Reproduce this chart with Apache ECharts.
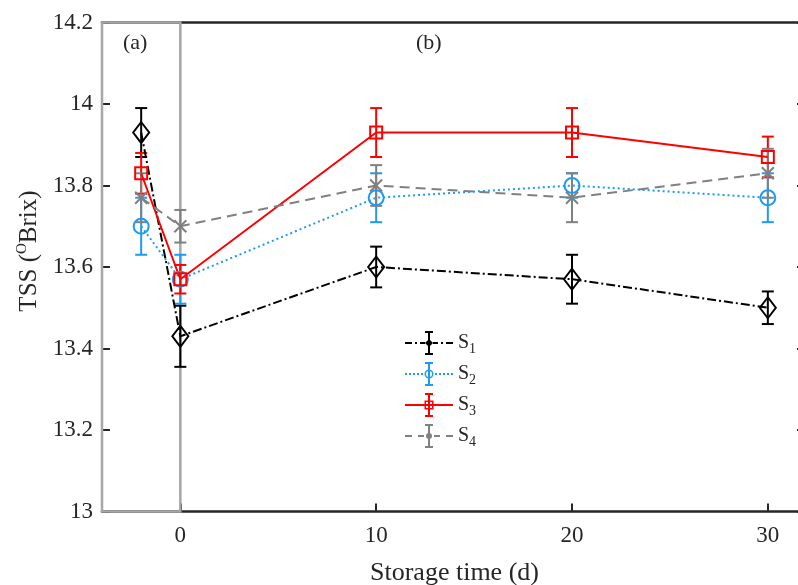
<!DOCTYPE html>
<html>
<head>
<meta charset="utf-8">
<script src="https://cdn.jsdelivr.net/npm/echarts@6/dist/echarts.min.js"></script>
<style>
  html, body { margin: 0; padding: 0; background: #fff; }
  #chart { width: 798px; height: 585px; }
</style>
</head>
<body>
<div id="chart"></div>
<script>
// storage days (-2 = panel (a), before storage)
var days = [-2, 0, 10, 20, 30];
var names = ['S1', 'S2', 'S3', 'S4'];
var s1 = [13.93, 13.43, 13.60, 13.57, 13.50];
var s1Err = [0.06, 0.075, 0.05, 0.06, 0.04];
var s2 = [13.70, 13.57, 13.77, 13.80, 13.77];
var s2Err = [0.07, 0.06, 0.06, 0.03, 0.06];
var s3 = [13.83, 13.57, 13.93, 13.93, 13.87];
var s3Err = [0.05, 0.035, 0.06, 0.06, 0.05];
var s4 = [13.77, 13.70, 13.80, 13.77, 13.83];
var s4Err = [0.06, 0.04, 0.05, 0.06, 0.06];
var xTicks = [0, 10, 20, 30];
var panelA = [[-4, 0]];

var font = '"Liberation Serif", "Times New Roman", serif';
var txt = '#262626';
var colors = ['#000000', '#1E9BF0', '#FF0000', '#808080'];
var values = [s1, s2, s3, s4];
var errs = [s1Err, s2Err, s3Err, s4Err];
var symbols = ['diamond', 'circle', 'rect', 'path://M0,0L10,10M0,10L10,0'];
var symbolSizes = [[16, 21], 15, 12, 12];
var dashes = [[9, 3, 2, 3], [2, 3], 'solid', [10, 6]];

// legend glyphs: line + error bar + small marker, in a 48x24 box
var bar = 'M23,1H25V23H23Z M20,0H28V2H20Z M20,22H28V24H20Z ';
var icons = [
  'path://' + bar + 'M0,11H7V13H0Z M10,11H12V13H10Z M15,11H20V13H15Z M28,11H33V13H28Z M36,11H38V13H36Z M41,11H48V13H41Z M24,8L28,12L24,16L20,12Z',
  'path://' + bar + 'M0,11H2V13H0Z M4,11H6V13H4Z M8,11H10V13H8Z M12,11H14V13H12Z M16,11H18V13H16Z M30,11H32V13H30Z M34,11H36V13H34Z M38,11H40V13H38Z M42,11H44V13H42Z M46,11H48V13H46Z M19.5,12A4.5,4.5 0 1,1 28.5,12A4.5,4.5 0 1,1 19.5,12Z M21,12A3,3 0 1,0 27,12A3,3 0 1,0 21,12Z',
  'path://' + bar + 'M0,11H48V13H0Z M19.5,7.5H28.5V16.5H19.5Z M21,9V15H27V9Z',
  'path://' + bar + 'M0,11H7V13H0Z M13,11H19V13H13Z M29,11H35V13H29Z M41,11H48V13H41Z M21,12A3,3 0 1,1 27,12A3,3 0 1,1 21,12Z'
];

function errorRender(color) {
  return function (params, api) {
    var x = api.value(0);
    var top = api.coord([x, api.value(2)]);
    var bot = api.coord([x, api.value(1)]);
    var w = 6;
    var st = { stroke: color, lineWidth: 2 };
    return {
      type: 'group',
      children: [
        { type: 'line', shape: { x1: top[0], y1: top[1], x2: bot[0], y2: bot[1] }, style: st },
        { type: 'line', shape: { x1: top[0] - w, y1: top[1], x2: top[0] + w, y2: top[1] }, style: st },
        { type: 'line', shape: { x1: bot[0] - w, y1: bot[1], x2: bot[0] + w, y2: bot[1] }, style: st }
      ]
    };
  };
}

var series = [];
// gray frame of panel (a)
series.push({
  type: 'custom',
  name: 'panel',
  clip: false,
  silent: true,
  z: 1,
  data: panelA,
  renderItem: function (params, api) {
    var p0 = api.coord([api.value(0), 14.2]);
    var p1 = api.coord([api.value(1), 13]);
    return {
      type: 'rect',
      shape: { x: p0[0], y: p0[1], width: p1[0] - p0[0], height: p1[1] - p0[1] },
      style: { fill: 'none', stroke: '#A6A6A6', lineWidth: 2.5 }
    };
  }
});
for (var i = 0; i < 4; i++) {
  series.push({
    type: 'line',
    name: names[i],
    data: days.map(function (d, k) { return [d, values[i][k]]; }),
    symbol: symbols[i],
    symbolSize: symbolSizes[i],
    showAllSymbol: true,
    z: 3,
    lineStyle: { color: colors[i], width: 2, type: dashes[i] },
    itemStyle: { color: 'rgba(0,0,0,0)', borderColor: colors[i], borderWidth: 2 },
    emphasis: { disabled: true }
  });
  series.push({
    type: 'custom',
    name: names[i] + ' err',
    z: 3,
    data: days.map(function (d, k) { return [d, values[i][k] - errs[i][k], values[i][k] + errs[i][k]]; }),
    encode: { x: 0, y: [1, 2] },
    renderItem: errorRender(colors[i])
  });
}

var chart = echarts.init(document.getElementById('chart'));
chart.setOption({
  backgroundColor: '#fff',
  animation: false,
  grid: { left: 102, top: 22.5, width: 705, height: 489, outerBoundsMode: 'none', containLabel: false },
  xAxis: [{
    type: 'value',
    min: -4,
    max: 32,
    position: 'bottom',
    name: 'Storage time (d)',
    nameLocation: 'middle',
    nameGap: 49,
    nameTextStyle: { fontFamily: font, fontSize: 26, color: txt },
    axisLine: { onZero: false, lineStyle: { color: '#262626', width: 2.5 } },
    axisTick: { inside: true, length: 8, customValues: xTicks, lineStyle: { color: '#262626', width: 2 } },
    axisLabel: { customValues: xTicks, margin: 13, fontFamily: font, fontSize: 23, color: txt },
    splitLine: { show: false }
  }, {
    type: 'value',
    min: -4,
    max: 32,
    position: 'top',
    axisLine: { onZero: false, lineStyle: { color: '#262626', width: 2.5 } },
    axisTick: { show: false },
    axisLabel: { show: false },
    splitLine: { show: false }
  }],
  yAxis: [{
    type: 'value',
    min: 13,
    max: 14.2,
    interval: 0.2,
    position: 'left',
    name: 'TSS ({sup|O}Brix)',
    nameLocation: 'middle',
    nameGap: 58,
    nameTextStyle: {
      fontFamily: font, fontSize: 25, color: txt,
      padding: [0, 0, 0, 32],
      rich: { sup: { fontFamily: font, fontSize: 15, color: txt, padding: [0, 0, 14, 0] } }
    },
    axisLine: { show: false, onZero: false },
    axisTick: { inside: true, length: 8, lineStyle: { color: '#262626', width: 2 } },
    axisLabel: { margin: 9, fontFamily: font, fontSize: 23, color: txt },
    splitLine: { show: false }
  }, {
    type: 'value',
    min: 13,
    max: 14.2,
    interval: 0.2,
    position: 'right',
    axisLine: { show: true, onZero: false, lineStyle: { color: '#262626', width: 2.5 } },
    axisTick: { inside: true, length: 10, lineStyle: { color: '#262626', width: 2 } },
    axisLabel: { show: false },
    splitLine: { show: false }
  }],
  legend: {
    orient: 'vertical',
    left: 400,
    top: 326,
    padding: 5,
    itemWidth: 48,
    itemHeight: 24,
    itemGap: 6,
    selectedMode: false,
    itemStyle: { borderWidth: 0 },
    data: names.map(function (n, k) {
      return { name: n, icon: icons[k], itemStyle: { color: colors[k], borderWidth: 0 } };
    }),
    formatter: function (n) { return 'S{sub|' + n.slice(1) + '}'; },
    textStyle: {
      fontFamily: font, fontSize: 20, color: txt,
      rich: { sub: { fontFamily: font, fontSize: 14, color: txt, padding: [12, 0, 0, 0] } }
    }
  },
  graphic: [
    { type: 'text', left: 123, top: 32, style: { text: '(a)', font: '22px ' + font, fill: txt } },
    { type: 'text', left: 416, top: 32, style: { text: '(b)', font: '22px ' + font, fill: txt } }
  ],
  series: series
});
</script>
</body>
</html>
